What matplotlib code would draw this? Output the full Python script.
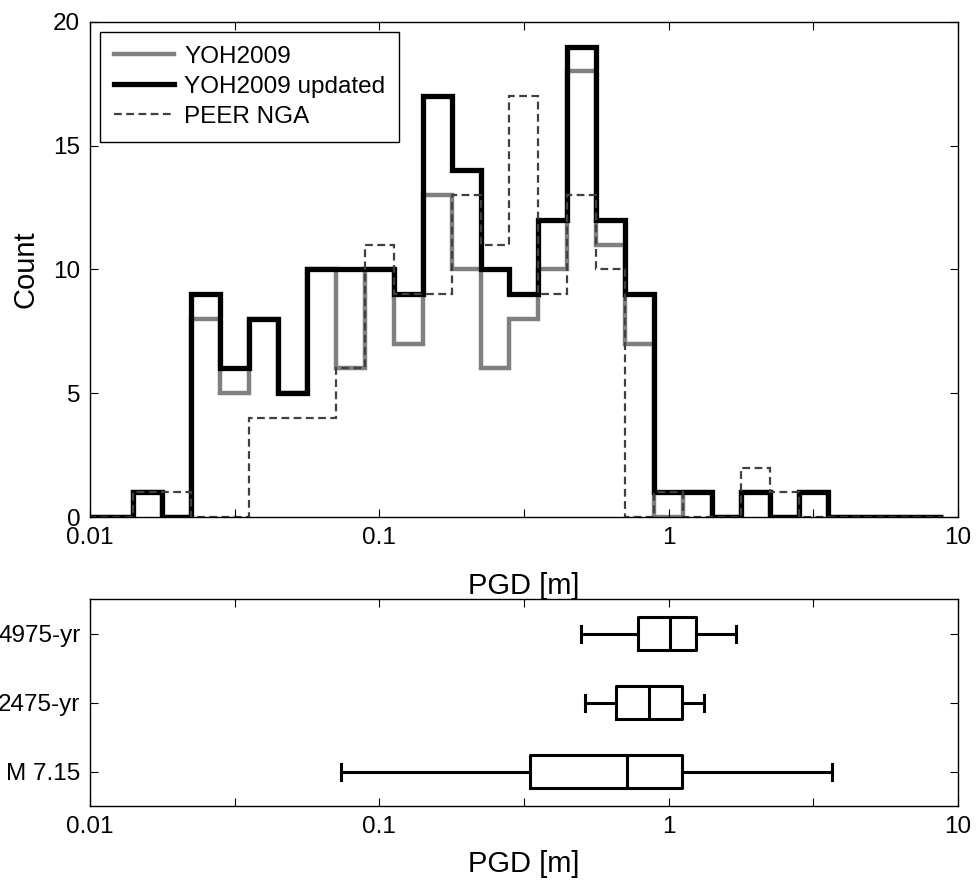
import numpy as np
import matplotlib.pyplot as plt
from matplotlib.lines import Line2D

plt.rcParams['font.family'] = ['Liberation Sans', 'DejaVu Sans']

# histogram bins: centres at 10^-2.0, 10^-1.9, ..., 10^0.9
bin_edges = 10 ** (np.arange(31) * 0.1 - 2.05)

yoh2009 = [0, 0, 1, 0, 8, 5, 8, 5, 10, 6, 10, 7, 13, 10, 6, 8, 10, 18, 11, 7,
           0, 1, 0, 1, 0, 1, 0, 0, 0, 0]
yoh2009_upd = [0, 0, 1, 0, 9, 6, 8, 5, 10, 10, 10, 9, 17, 14, 10, 9, 12, 19, 12, 9,
               1, 1, 0, 1, 0, 1, 0, 0, 0, 0]
peer_nga = [0, 0, 1, 1, 0, 0, 4, 4, 4, 6, 11, 9, 9, 13, 11, 17, 9, 13, 10, 0,
            1, 0, 0, 2, 1, 0, 0, 0, 0, 0]

# boxplot summaries (PGD in m)
box_labels = ['M 7.15', '2475-yr', '4975-yr']
whis_lo = [0.074, 0.516, 0.497]
q1 = [0.331, 0.658, 0.783]
med = [0.716, 0.856, 1.008]
q3 = [1.108, 1.108, 1.24]
whis_hi = [3.675, 1.324, 1.71]

xticks = 10 ** np.arange(-2, 1.01, 0.5)
xticklabels = ['0.01', '', '0.1', '', '1', '', '10']

fig = plt.figure(figsize=(9.78, 8.8), dpi=100)

def style_axes(ax):
    ax.set_xscale('log')
    ax.set_xlim(0.01, 10)
    ax.set_xticks(xticks)
    ax.set_xticklabels(xticklabels)
    ax.minorticks_off()
    ax.tick_params(direction='in', length=6, width=0.8, top=True, right=True,
                   labelsize=17.5, pad=7)
    for s in ax.spines.values():
        s.set_linewidth(1.0)

# ---- histogram ----
ax1 = fig.add_axes([0.092, 0.4125, 0.8875, 0.5625])
ax1.stairs(yoh2009, bin_edges, color='#808080', lw=3.2)
ax1.stairs(yoh2009_upd, bin_edges, color='black', lw=3.8)
ax1.stairs(peer_nga, bin_edges, color='#404040', lw=1.6, linestyle=(0, (3.5, 2)))
style_axes(ax1)
ax1.set_ylim(0, 20)
ax1.set_yticks([0, 5, 10, 15, 20])
ax1.set_xlabel('PGD [m]', fontsize=21, labelpad=17)
ax1.set_ylabel('Count', fontsize=21, labelpad=10)

handles = [Line2D([], [], color='#808080', lw=3.2),
           Line2D([], [], color='black', lw=3.8),
           Line2D([], [], color='#404040', lw=1.6, linestyle=(0, (3.5, 2)))]
leg = ax1.legend(handles, ['YOH2009', 'YOH2009 updated', 'PEER NGA'],
                 loc='upper left', fontsize=17.5, frameon=True, fancybox=False,
                 edgecolor='black', framealpha=1, handlelength=2.5,
                 handletextpad=0.4, labelspacing=0.33, borderpad=0.57,
                 borderaxespad=0.4)
leg.get_frame().set_linewidth(1.0)

# ---- boxplot ----
ax2 = fig.add_axes([0.092, 0.084, 0.8875, 0.2352])
stats = []
for i in range(len(box_labels)):
    stats.append({'whislo': whis_lo[i], 'q1': q1[i], 'med': med[i],
                  'q3': q3[i], 'whishi': whis_hi[i], 'fliers': []})
lp = dict(color='black', lw=2.2)
ax2.bxp(stats, positions=[1, 2, 3], vert=False, widths=0.48, capwidths=0.23,
        showfliers=False, boxprops=lp, medianprops=lp, whiskerprops=lp,
        capprops=lp)
style_axes(ax2)
ax2.set_ylim(0.5, 3.5)
ax2.set_yticks([1, 2, 3])
ax2.set_yticklabels(box_labels)
ax2.set_xlabel('PGD [m]', fontsize=21, labelpad=9)

fig.savefig('out.png', dpi=100)
